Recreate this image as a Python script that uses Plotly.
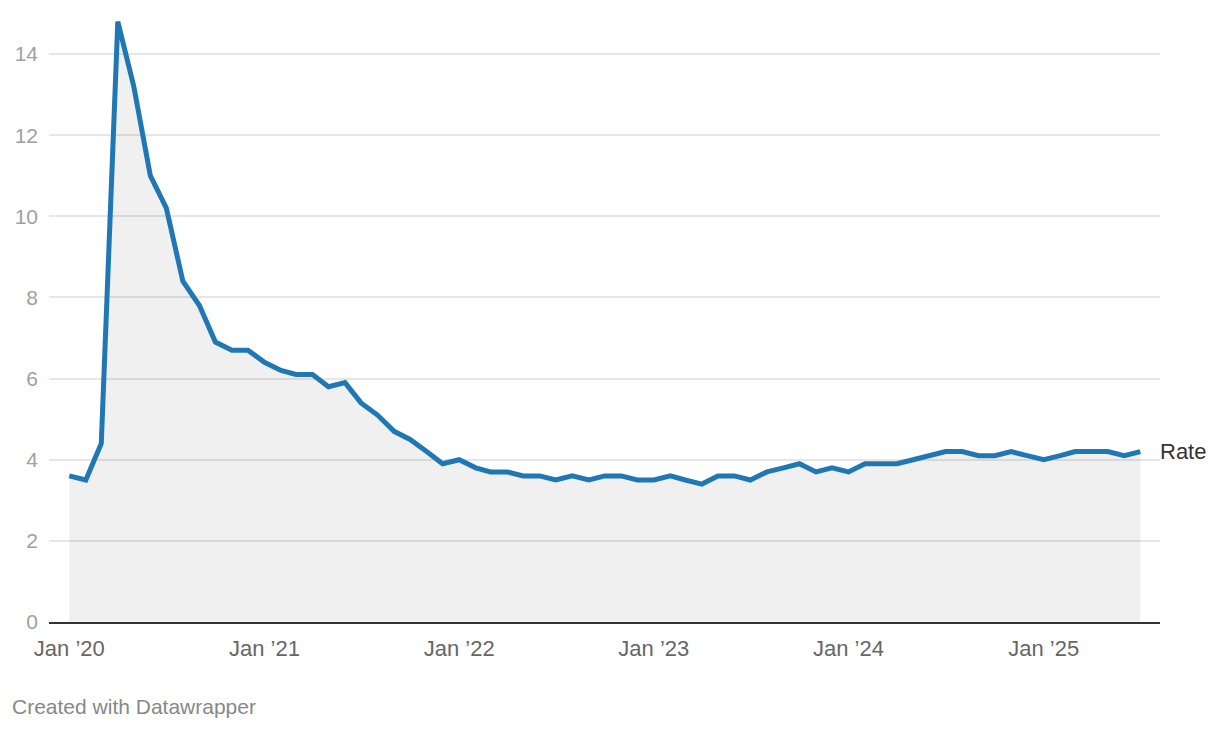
import plotly.graph_objects as go

months = [f"{y}-{m:02d}-01" for y in range(2020, 2026) for m in range(1, 13)][:67]

rate = [
    3.6, 3.5, 4.4, 14.8, 13.2, 11.0, 10.2, 8.4, 7.8, 6.9, 6.7, 6.7,
    6.4, 6.2, 6.1, 6.1, 5.8, 5.9, 5.4, 5.1, 4.7, 4.5, 4.2, 3.9,
    4.0, 3.8, 3.7, 3.7, 3.6, 3.6, 3.5, 3.6, 3.5, 3.6, 3.6, 3.5,
    3.5, 3.6, 3.5, 3.4, 3.6, 3.6, 3.5, 3.7, 3.8, 3.9, 3.7, 3.8,
    3.7, 3.9, 3.9, 3.9, 4.0, 4.1, 4.2, 4.2, 4.1, 4.1, 4.2, 4.1,
    4.0, 4.1, 4.2, 4.2, 4.2, 4.1, 4.2,
]

tick_vals = ["2020-01-01", "2021-01-01", "2022-01-01", "2023-01-01", "2024-01-01", "2025-01-01"]
tick_text = ["Jan \u201920", "Jan \u201921", "Jan \u201922", "Jan \u201923", "Jan \u201924", "Jan \u201925"]
y_ticks = [0, 2, 4, 6, 8, 10, 12, 14]

FONT = "Liberation Sans, Arial, Helvetica, sans-serif"

fig = go.Figure()
fig.add_trace(go.Scatter(
    x=months, y=rate, mode="lines",
    line=dict(color="#1f77b4", width=5),
    fill="tozeroy", fillcolor="rgba(0,0,0,0.06)",
    hoverinfo="skip", showlegend=False,
))

fig.add_annotation(
    x=months[-1], y=rate[-1], xref="x", yref="y",
    text="Rate", showarrow=False, xanchor="left", yanchor="middle",
    xshift=18, font=dict(family=FONT, size=22, color="#333333"),
)
fig.add_annotation(
    x=-39 / 1111, y=-84 / 608, xref="paper", yref="paper",
    text="Created with Datawrapper", showarrow=False,
    xanchor="left", yanchor="middle",
    font=dict(family=FONT, size=21, color="#888888"),
)

fig.update_layout(
    width=1220, height=730,
    margin=dict(l=41, r=68, t=6, b=116),
    paper_bgcolor="white", plot_bgcolor="white",
    font=dict(family=FONT),
    xaxis=dict(
        type="date",
        range=["2019-11-24", "2025-08-07"],
        tickvals=tick_vals, ticktext=tick_text,
        showgrid=False, showline=True, linecolor="#333333", linewidth=2,
        ticks="", tickfont=dict(size=22, color="#666666"),
        ticklabelstandoff=6,
        zeroline=False, fixedrange=True,
    ),
    yaxis=dict(
        range=[0, 14.986],
        tickvals=y_ticks,
        showgrid=True, gridcolor="#e6e6e6", gridwidth=1.5,
        zeroline=False, showline=False, ticks="",
        tickfont=dict(size=21, color="#a0a0a0"),
        ticklabelstandoff=10,
        fixedrange=True,
    ),
)

fig.write_html("out.html")
